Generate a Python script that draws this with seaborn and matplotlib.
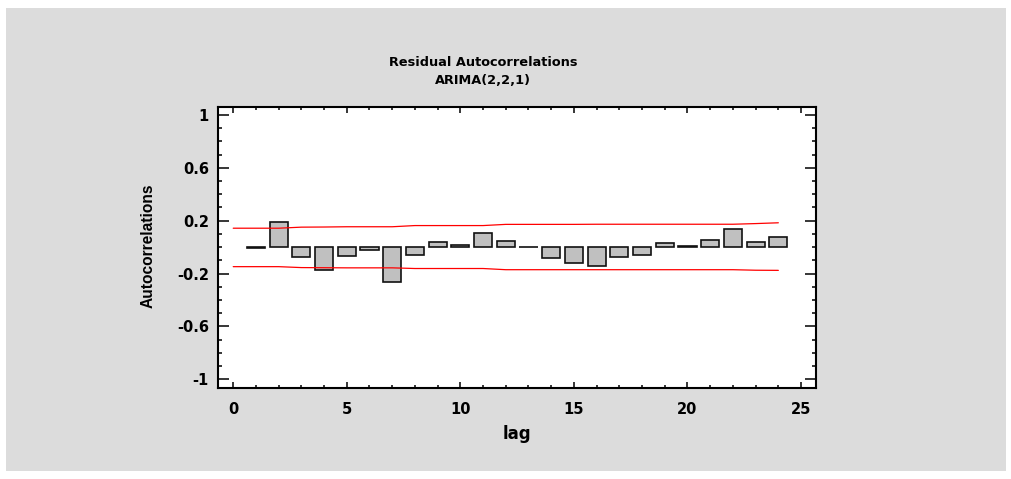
import numpy as np
import pandas as pd
import matplotlib
matplotlib.use("Agg")
import matplotlib.pyplot as plt
from matplotlib import font_manager
from matplotlib.patches import Rectangle
from matplotlib.ticker import MultipleLocator, FixedLocator
import seaborn as sns

# ---- data ----
lags = list(range(1, 25))
acf = [-0.003, 0.190, -0.073, -0.172, -0.066, -0.020, -0.263, -0.056, 0.035, 0.018,
       0.109, 0.043, 0.000, -0.083, -0.119, -0.146, -0.073, -0.056, 0.028, 0.006,
       0.056, 0.134, 0.035, 0.073]
limit_lags = list(range(0, 25))
upper_limit = [0.143, 0.143, 0.143, 0.151, 0.152, 0.154, 0.154, 0.154, 0.163, 0.163,
               0.163, 0.163, 0.172, 0.172, 0.172, 0.172, 0.173, 0.173, 0.173, 0.173,
               0.173, 0.173, 0.173, 0.178, 0.184]
lower_limit = [-0.148, -0.148, -0.148, -0.155, -0.156, -0.157, -0.157, -0.157, -0.162, -0.162,
               -0.162, -0.162, -0.171, -0.171, -0.171, -0.171, -0.171, -0.171, -0.171, -0.171,
               -0.171, -0.171, -0.171, -0.175, -0.176]
yticks = [-1, -0.6, -0.2, 0.2, 0.6, 1]
ytick_labels = ["-1", "-0.6", "-0.2", "0.2", "0.6", "1"]
xticks = [0, 5, 10, 15, 20, 25]
title1 = "Residual Autocorrelations"
title2 = "ARIMA(2,2,1)"
xlabel = "lag"
ylabel = "Autocorrelations"

sns.set_theme(style="ticks")
plt.rcParams["font.family"] = ["DejaVu Sans"]
plt.rcParams["text.color"] = "black"
plt.rcParams["xtick.color"] = "black"
plt.rcParams["ytick.color"] = "black"

W, H = 1012, 479
fig = plt.figure(figsize=(W / 100, H / 100), dpi=100, facecolor="white")
bg = Rectangle((6 / W, 1 - 471 / H), 1000 / W, 463 / H,
               transform=fig.transFigure, facecolor="#dcdcdc",
               edgecolor="none", zorder=-10)
fig.add_artist(bg)

ax = fig.add_axes([218 / W, 1 - 387.7 / H, (816.5 - 218) / W, (387.7 - 107.3) / H])
ax.set_zorder(5)
ax.set_facecolor("white")

df = pd.DataFrame({"lag": lags, "acf": acf})
sns.barplot(data=df, x="lag", y="acf", native_scale=True, width=0.8,
            color="#c0c0c0", saturation=1, edgecolor="#111111", linewidth=1.2, ax=ax)
lim = pd.DataFrame({"lag": limit_lags, "up": upper_limit, "lo": lower_limit})
sns.lineplot(data=lim, x="lag", y="up", color="#ff0000", linewidth=0.9, ax=ax)
sns.lineplot(data=lim, x="lag", y="lo", color="#ff0000", linewidth=0.9, ax=ax)

ax.set_xlim(-0.67, 25.68)
ax.set_ylim(-1.064, 1.058)
ax.xaxis.set_major_locator(FixedLocator(xticks))
ax.xaxis.set_minor_locator(MultipleLocator(1))
ax.yaxis.set_major_locator(FixedLocator(yticks))
ax.yaxis.set_minor_locator(MultipleLocator(0.1))
ax.set_yticklabels(ytick_labels)
ax.set_xticklabels([str(t) for t in xticks])
ax.set_xlabel("")
ax.set_ylabel("")

for s in ax.spines.values():
    s.set_visible(True)
    s.set_linewidth(1.5)
    s.set_color("black")

ax.tick_params(axis="y", which="major", direction="in", length=8, width=1.1,
               left=True, right=True, pad=6.5, labelsize=10.5, colors="black")
ax.tick_params(axis="y", which="minor", direction="in", length=3, width=1.1,
               left=True, right=True, colors="black")
ax.tick_params(axis="x", which="major", direction="in", length=4.5, width=1.1,
               bottom=True, top=True, pad=10, labelsize=10.5, colors="black")
ax.tick_params(axis="x", which="minor", direction="in", length=2.5, width=1.1,
               bottom=True, top=True, colors="black")
for lbl in ax.get_xticklabels() + ax.get_yticklabels():
    lbl.set_fontweight("bold")

fig.text(483 / W, 1 - 62 / H, title1, ha="center", va="center", color="black",
         fontsize=9.3, fontweight="bold", family=["DejaVu Sans"])
fig.text(483 / W, 1 - 80 / H, title2, ha="center", va="center", color="black",
         fontsize=9.3, fontweight="bold", family=["DejaVu Sans"])
fig.text(517 / W, 1 - 434 / H, xlabel, ha="center", va="center", color="black",
         fontsize=12, fontweight="bold", family=["DejaVu Sans"])

names = {f.name for f in font_manager.fontManager.ttflist}
if "Liberation Sans Narrow" in names:
    yl_family, yl_size = ["Liberation Sans Narrow"], 13.5
else:
    yl_family, yl_size = ["Liberation Sans"], 11.2
fig.text(148 / W, 1 - 246 / H, ylabel, ha="center", va="center", rotation=90,
         color="black", fontsize=yl_size, fontweight="bold", family=yl_family)

fig.savefig("out.png", dpi=100, facecolor="white")
